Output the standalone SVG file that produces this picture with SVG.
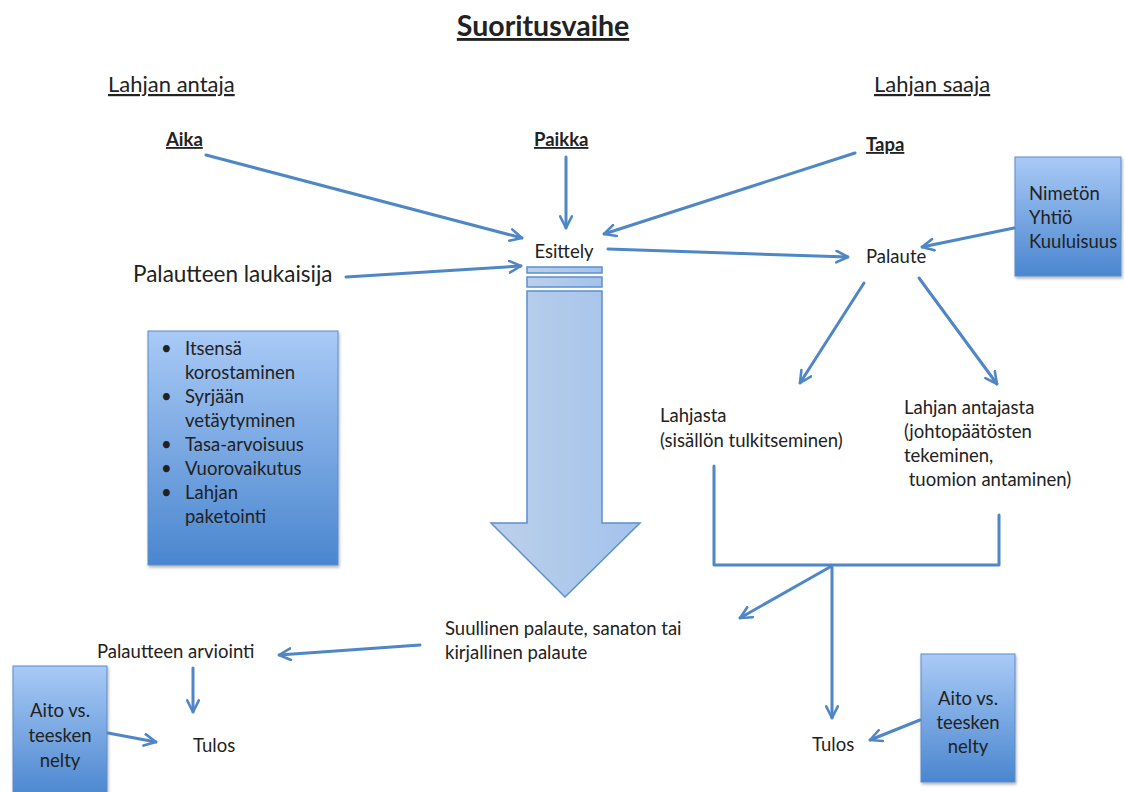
<svg xmlns="http://www.w3.org/2000/svg" width="1125" height="792" viewBox="0 0 1125 792">
  <style>
    text { font-family: Lato, "Open Sans", "Liberation Sans", sans-serif; fill: #222; }
    .title { font-size: 28.5px; font-weight: bold; text-decoration: underline; }
    .head { font-size: 22px; text-decoration: underline; }
    .key { font-size: 18.5px; font-weight: bold; text-decoration: underline; }
    .lbl { font-size: 18.5px; }
    .big { font-size: 22.5px; }
    .box { font-size: 18.5px; }
    .conn { stroke: #4f86c6; stroke-width: 3; fill: none; stroke-linecap: round; stroke-linejoin: round; }
    .card { stroke: #5a8ccc; stroke-width: 1; fill: url(#cardFill); filter: url(#shadow); }
  </style>
  <defs>
    <linearGradient id="cardFill" x1="0" y1="0" x2="0" y2="1">
      <stop offset="0" stop-color="#a9caf6"/>
      <stop offset="1" stop-color="#4a86cf"/>
    </linearGradient>
    <linearGradient id="flowFill" x1="0" y1="0" x2="1" y2="0">
      <stop offset="0" stop-color="#bcd0ea"/>
      <stop offset="1" stop-color="#a3c2ec"/>
    </linearGradient>
    <filter id="shadow" x="-10%" y="-10%" width="130%" height="130%">
      <feDropShadow dx="1" dy="2" stdDeviation="1.5" flood-color="#000" flood-opacity="0.3"/>
    </filter>
    <marker id="arr" viewBox="0 0 12 12" refX="11" refY="6" markerWidth="14" markerHeight="14" markerUnits="userSpaceOnUse" orient="auto">
      <path d="M1,1 L11,6 L1,11" fill="none" stroke="#4f86c6" stroke-width="2.2" stroke-linecap="round" stroke-linejoin="round"/>
    </marker>
  </defs>

  <rect width="1125" height="792" fill="#fff"/>

  <!-- headings -->
  <g id="title"><text class="title" x="543" y="36" text-anchor="middle">Suoritusvaihe</text></g>
  <g id="giver"><text class="head" x="108" y="92">Lahjan antaja</text></g>
  <g id="receiver"><text class="head" x="874" y="92">Lahjan saaja</text></g>

  <!-- source nodes -->
  <g id="aika"><text class="key" x="166" y="146">Aika</text></g>
  <g id="paikka"><text class="key" x="534" y="146">Paikka</text></g>
  <g id="tapa"><text class="key" x="866" y="151">Tapa</text></g>
  <g id="esittely"><text class="lbl" x="564" y="258" text-anchor="middle">Esittely</text></g>
  <g id="palaute"><text class="lbl" x="866" y="263">Palaute</text></g>
  <g id="laukaisija"><text class="big" x="133" y="282">Palautteen laukaisija</text></g>

  <!-- identity box -->
  <g id="identity">
    <rect class="card" x="1015" y="157" width="106" height="119"/>
    <text class="box" x="1029" y="200">Nimetön</text>
    <text class="box" x="1029" y="224">Yhtiö</text>
    <text class="box" x="1029" y="248">Kuuluisuus</text>
  </g>

  <!-- behaviour list -->
  <g id="behaviours">
    <rect class="card" x="148" y="331" width="190" height="234"/>
    <g class="box">
      <text x="161" y="355">•</text><text x="185" y="355">Itsensä</text>
      <text x="185" y="379">korostaminen</text>
      <text x="161" y="403">•</text><text x="185" y="403">Syrjään</text>
      <text x="185" y="427">vetäytyminen</text>
      <text x="161" y="451">•</text><text x="185" y="451">Tasa-arvoisuus</text>
      <text x="161" y="475">•</text><text x="185" y="475">Vuorovaikutus</text>
      <text x="161" y="499">•</text><text x="185" y="499">Lahjan</text>
      <text x="185" y="523">paketointi</text>
    </g>
  </g>

  <!-- block arrow from Esittely down to the response -->
  <g id="flow" stroke="#5b8fd0" stroke-width="1.5" fill="url(#flowFill)">
    <rect x="527" y="267" width="75" height="6"/>
    <rect x="527" y="277" width="75" height="10"/>
    <path d="M527,291 L602,291 L602,523 L640,523 L565,597 L491,523 L527,523 Z"/>
  </g>

  <!-- interpretations -->
  <g id="lahjasta">
    <text class="lbl" x="660" y="422">Lahjasta</text>
    <text class="lbl" x="660" y="447">(sisällön tulkitseminen)</text>
  </g>
  <g id="antajasta">
    <text class="lbl" x="904" y="414">Lahjan antajasta</text>
    <text class="lbl" x="904" y="438">(johtopäätösten</text>
    <text class="lbl" x="904" y="462">tekeminen,</text>
    <text class="lbl" x="904" y="486" xml:space="preserve"> tuomion antaminen)</text>
  </g>

  <g id="response">
    <text class="lbl" x="445" y="635">Suullinen palaute, sanaton tai</text>
    <text class="lbl" x="445" y="659">kirjallinen palaute</text>
  </g>
  <g id="arviointi"><text class="lbl" x="97" y="658">Palautteen arviointi</text></g>
  <g id="tulos-left"><text class="lbl" x="193" y="752">Tulos</text></g>
  <g id="tulos-right"><text class="lbl" x="812" y="751">Tulos</text></g>

  <g id="aito-left">
    <rect class="card" x="13" y="666" width="94" height="132"/>
    <text class="box" x="60" y="717" text-anchor="middle">Aito vs.</text>
    <text class="box" x="60" y="742" text-anchor="middle">teesken</text>
    <text class="box" x="60" y="767" text-anchor="middle">nelty</text>
  </g>
  <g id="aito-right">
    <rect class="card" x="921" y="654" width="94" height="128"/>
    <text class="box" x="968" y="705" text-anchor="middle">Aito vs.</text>
    <text class="box" x="968" y="729" text-anchor="middle">teesken</text>
    <text class="box" x="968" y="753" text-anchor="middle">nelty</text>
  </g>

  <!-- connectors -->
  <g id="connectors" class="conn">
    <line x1="206" y1="155" x2="522" y2="238" marker-end="url(#arr)"/>
    <line x1="566" y1="157" x2="566" y2="228" marker-end="url(#arr)"/>
    <line x1="855" y1="153" x2="604" y2="234" marker-end="url(#arr)"/>
    <line x1="346" y1="277" x2="521" y2="266" marker-end="url(#arr)"/>
    <line x1="608" y1="249" x2="848" y2="257" marker-end="url(#arr)"/>
    <line x1="1014" y1="228" x2="922" y2="247" marker-end="url(#arr)"/>
    <line x1="864" y1="283" x2="800" y2="383" marker-end="url(#arr)"/>
    <line x1="919" y1="278" x2="997" y2="384" marker-end="url(#arr)"/>
    <polyline points="714,466 714,565 999,565 999,515"/>
    <line x1="830" y1="567" x2="740" y2="618" marker-end="url(#arr)"/>
    <line x1="832" y1="567" x2="832" y2="718" marker-end="url(#arr)"/>
    <line x1="420" y1="645" x2="279" y2="655" marker-end="url(#arr)"/>
    <line x1="193" y1="668" x2="193" y2="712" marker-end="url(#arr)"/>
    <line x1="108" y1="733" x2="156" y2="742" marker-end="url(#arr)"/>
    <line x1="920" y1="720" x2="870" y2="740" marker-end="url(#arr)"/>
  </g>
</svg>
